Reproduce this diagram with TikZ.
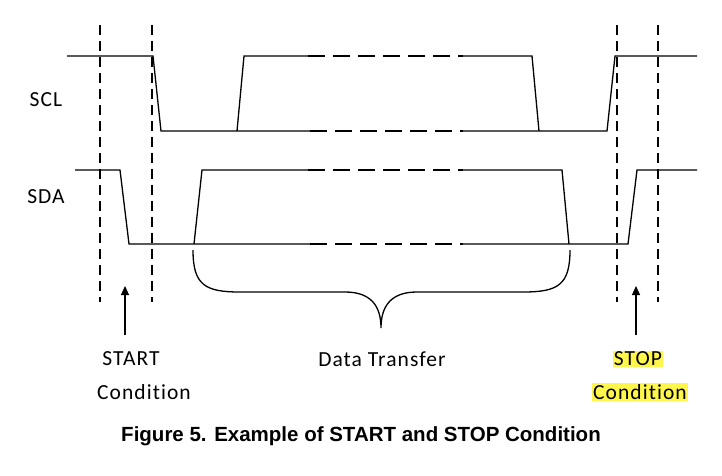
\documentclass[tikz,border=0pt]{standalone}
\usepackage{fontspec}
\setmainfont{Carlito}[LetterSpace=5,Ligatures=NoCommon]
\newfontfamily\capfont{Liberation Sans}
\usetikzlibrary{arrows.meta}
\begin{document}
\begin{tikzpicture}[x=1pt,y=-1pt,line width=1.3pt,
  dsh/.style={dash pattern=on 17pt off 8pt},
  vdsh/.style={dash pattern=on 10pt off 6pt},
  lbl/.style={font=\fontsize{21.5}{26}\selectfont,inner sep=1pt},
  hl/.style={fill=yellow!70,inner sep=1pt}]
\useasboundingbox (0,0) rectangle (722,475);
% vertical guide lines
\foreach \x/\n in {100/v1,152/v2,617/v3,658/v4}{
  \coordinate (\n t) at (\x,25); \coordinate (\n b) at (\x,302);
  \draw[vdsh,line width=1.2pt] (\n t) -- (\n b);}
% SCL
\draw (67,56) -- (153,56) -- (161,131) -- (310,131);
\draw[dsh] (310,131) -- (463,131);
\draw (463,131) -- (607,131) -- (615,56) -- (697,56);
\draw (237,131) -- (244,56) -- (308,56);
\draw[dsh] (308,56) -- (463,56);
\draw (463,56) -- (532,56) -- (539,131);
% SDA
\draw (75,170) -- (120,170) -- (129,244) -- (310,244);
\draw[dsh] (310,244) -- (463,244);
\draw (463,244) -- (628,244) -- (637,170) -- (697,170);
\draw (194,244) -- (202,170) -- (308,170);
\draw[dsh] (308,170) -- (463,170);
\draw (463,170) -- (562,170) -- (569,244);
\node[lbl] (scl) at (46,100) {SCL};
\node[lbl] (sda) at (46,197) {SDA};
% brace
\coordinate (b1) at (193,250); \coordinate (b2) at (570,250); \coordinate (bt) at (381,328);
\draw (b1) .. controls (193,285) and (205,292) .. (240,292) -- (345,292)
  .. controls (370,292) and (381,305) .. (bt)
  .. controls (381,305) and (392,292) .. (417,292) -- (523,292)
  .. controls (558,292) and (570,285) .. (b2);
% arrows
\coordinate (a1b) at (125,335); \coordinate (a1t) at (125,286);
\coordinate (a2b) at (636,335); \coordinate (a2t) at (636,286);
\draw[-{Triangle[length=9pt,width=8pt]}] (a1b) -- (a1t);
\draw[-{Triangle[length=9pt,width=8pt]}] (a2b) -- (a2t);
\node[lbl] (start) at (131,359) {START};
\node[lbl] (startc) at (144,392) {Condition};
\node[lbl] (data) at (382,359) {Data Transfer};
\node[lbl,hl] (stop) at (638,359) {STOP};
\node[lbl,hl] (stopc) at (640,392) {Condition};
\node[font=\capfont\bfseries\fontsize{20.5}{24}\selectfont] (cap) at (361,436) {Figure 5. Example of START and STOP Condition};
\end{tikzpicture}
\end{document}
